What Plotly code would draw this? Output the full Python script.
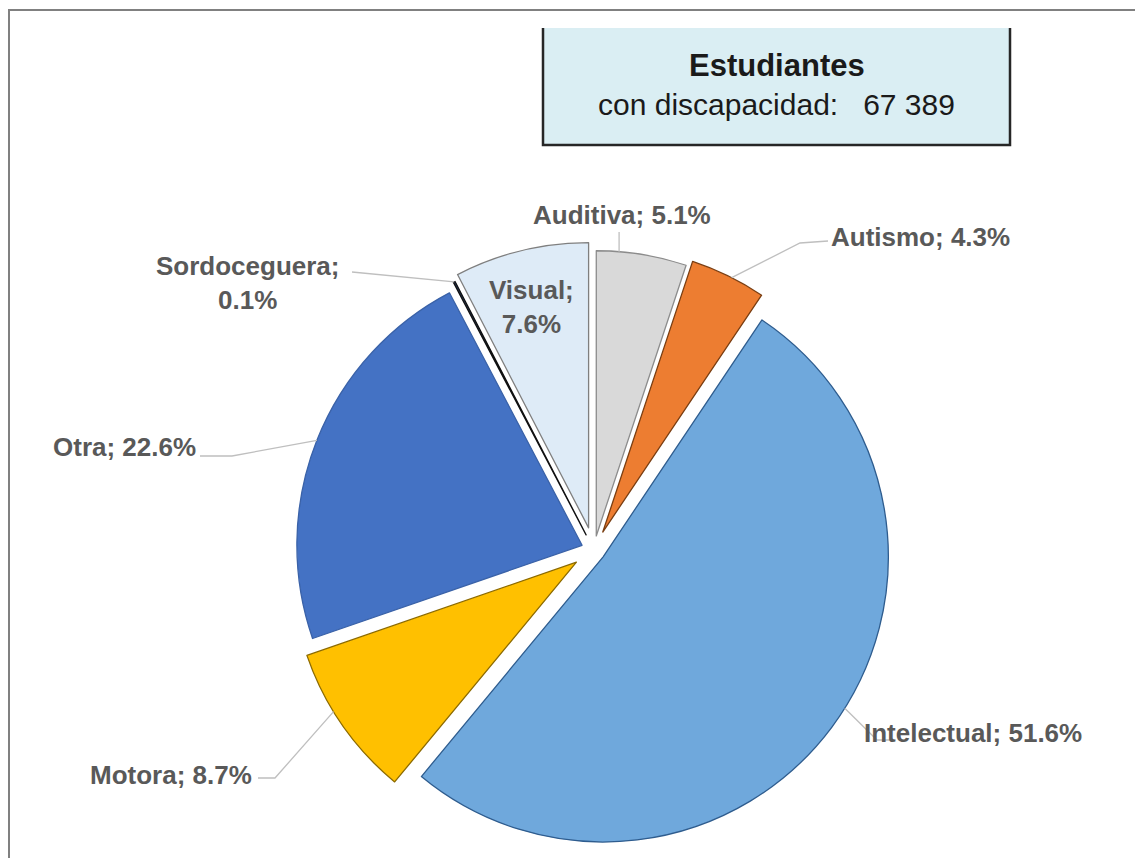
import numpy as np
import plotly.graph_objects as go

# Distribución de estudiantes con discapacidad por tipo (%)
categorias = ["Auditiva", "Autismo", "Intelectual", "Motora", "Otra", "Sordoceguera", "Visual"]
porcentajes = [5.1, 4.3, 51.6, 8.7, 22.6, 0.1, 7.6]
colores = ["#D9D9D9", "#ED7D31", "#6FA8DC", "#FFC000", "#4472C4", "#1F3864", "#DEEBF7"]
bordes = ["#8C8C8C", "#7A3E12", "#2E5C8E", "#8C6A00", "#3A62A8", "#111111", "#7F7F7F"]
separacion = [0.05, 0.07, 0.04, 0.075, 0.045, 0.06, 0.08]
titulo = "Estudiantes"
subtitulo = "con discapacidad:"
total_estudiantes = "67 389"

W, H = 1135, 858
CX, CY = 594, 550            # centre of the pie, in pixels
half = H - CY
R = half / (1 + max(separacion))   # radius plotly will use
dom_x = [(CX - half) / W, (CX + half) / W]
dom_y = [0, 2 * half / H]


def pp(x, y):
    """pixel -> paper coordinates"""
    return x / W, 1 - y / H


cum = np.concatenate([[0], np.cumsum(porcentajes)])
tot = cum[-1]


def punto(i, f, k=1.0):
    """Pixel position on slice i at fraction f of its arc, radius factor k."""
    a0 = 90 - 360 * cum[i] / tot
    a1 = 90 - 360 * cum[i + 1] / tot
    mid = np.radians((a0 + a1) / 2)
    ang = np.radians(a0 + f * (a1 - a0))
    ox = separacion[i] * R * np.cos(mid)
    oy = separacion[i] * R * np.sin(mid)
    return CX + ox + k * R * np.cos(ang), CY - (oy + k * R * np.sin(ang))


fig = go.Figure(go.Pie(
    labels=categorias,
    values=porcentajes,
    sort=False,
    direction="clockwise",
    rotation=0,
    pull=separacion,
    marker=dict(colors=colores, line=dict(color=bordes, width=1.3)),
    textinfo="none",
    hoverinfo="label+percent",
    showlegend=False,
    domain=dict(x=dom_x, y=dom_y),
))

shapes = []
# outer frame
fx0, fy0 = pp(9, 10)
fx1, fy1 = pp(1145, 870)
shapes.append(dict(type="rect", xref="paper", yref="paper", x0=fx0, y0=fy1, x1=fx1, y1=fy0,
                   line=dict(color="#808080", width=2), fillcolor="rgba(0,0,0,0)", layer="below"))

# info box
bx0, by0 = pp(543, 28)
bx1, by1 = pp(1010, 145)
shapes.append(dict(type="rect", xref="paper", yref="paper", x0=bx0, y0=by1, x1=bx1, y1=by0,
                   line=dict(width=0), fillcolor="#DAEEF3", layer="below"))
shapes.append(dict(type="path", xref="paper", yref="paper",
                   path=f"M {bx0} {by0} L {bx0} {by1} L {bx1} {by1} L {bx1} {by0}",
                   line=dict(color="#262626", width=2.5)))


def linea(puntos_px):
    pts = [pp(x, y) for x, y in puntos_px]
    d = "M " + " L ".join(f"{x:.5f} {y:.5f}" for x, y in pts)
    shapes.append(dict(type="path", xref="paper", yref="paper", path=d,
                       line=dict(color="#BFBFBF", width=1.3)))


# leader lines from labels to slices
pa = punto(0, 0.25)
linea([(pa[0], 232), pa])
linea([(828, 241), (800, 243), punto(1, 0.55)])
linea([(352, 272), punto(5, 0.5)])
linea([(200, 456), (232, 456), punto(4, 0.5)])
linea([(890, 740), (877, 740), punto(2, 0.475)])
linea([(258, 778), (275, 778), punto(3, 0.6)])

fig.update_layout(shapes=shapes)

FONT = "Liberation Sans, Arial, sans-serif"
etq = {c: f"{c}; {v:.1f}%" for c, v in zip(categorias, porcentajes)}
lab_font = dict(family=FONT, size=26, color="#595959")


def anota(texto, x, y, xa, ya="middle", font=lab_font):
    px, py = pp(x, y)
    fig.add_annotation(x=px, y=py, xref="paper", yref="paper", text=texto,
                       showarrow=False, xanchor=xa, yanchor=ya, font=font, align="center")


anota(f"<b>{etq['Auditiva']}</b>", 622, 215, "center")
anota(f"<b>{etq['Autismo']}</b>", 829, 237, "left")
anota(f"<b>Sordoceguera;<br>{porcentajes[5]:.1f}%</b>", 248, 283, "center")
anota(f"<b>{etq['Otra']}</b>", 198, 447, "right")
anota(f"<b>Visual;<br>{porcentajes[6]:.1f}%</b>", 531, 307, "center")
anota(f"<b>{etq['Intelectual']}</b>", 862, 733, "left")
anota(f"<b>{etq['Motora']}</b>", 254, 775, "right")

anota(f"<b>{titulo}</b>", 777, 65, "center", font=dict(family=FONT, size=31, color="#1A1A1A"))
anota(f"{subtitulo}\u00a0\u00a0 {total_estudiantes}", 776, 104, "center",
      font=dict(family=FONT, size=30, color="#1A1A1A"))

fig.update_layout(
    width=W, height=H,
    margin=dict(l=0, r=0, t=0, b=0),
    paper_bgcolor="white",
    plot_bgcolor="white",
)

fig.write_html("out.html")
